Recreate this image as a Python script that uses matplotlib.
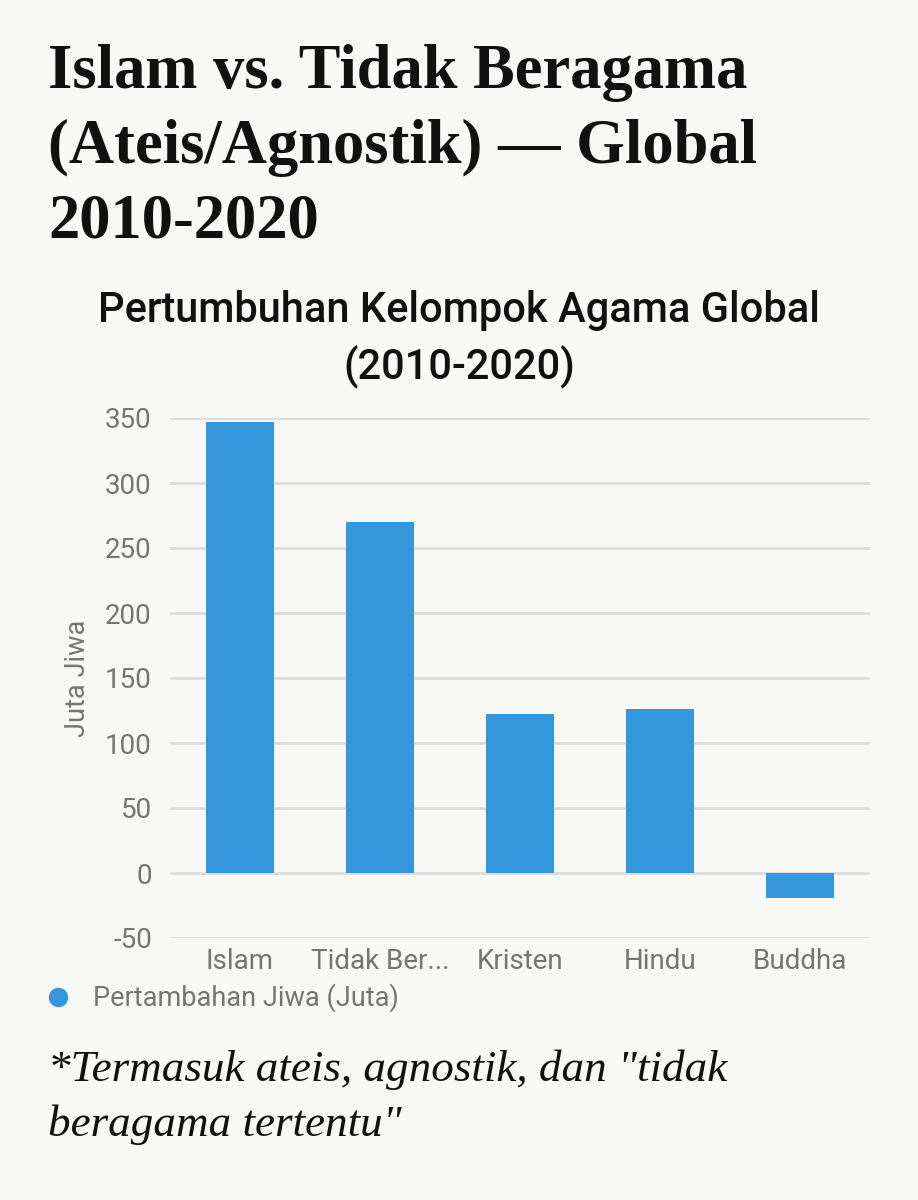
import matplotlib
matplotlib.use("Agg")
import matplotlib.pyplot as plt
from matplotlib.lines import Line2D

categories = ["Islam", "Tidak Ber...", "Kristen", "Hindu", "Buddha"]
values = [347, 270, 122, 126, -19]
y_ticks = [-50, 0, 50, 100, 150, 200, 250, 300, 350]

title = "Islam vs. Tidak Beragama\n(Ateis/Agnostik) — Global\n2010-2020"
subtitle = "Pertumbuhan Kelompok Agama Global\n(2010-2020)"
y_label = "Juta Jiwa"
legend_label = "Pertambahan Jiwa (Juta)"
footnote = "*Termasuk ateis, agnostik, dan \"tidak\nberagama tertentu\""

BG = "#f8f8f6"
BAR = "#3597db"
GRAY = "#757575"
GRID = "#dcdcdc"

W, H = 918, 1200
fig = plt.figure(figsize=(W / 100, H / 100), dpi=100, facecolor=BG)

fig.text(48 / W, 1 - 44 / H, title, ha="left", va="top", fontsize=45,
         family="Liberation Serif", weight="bold", color="#111111", linespacing=1.38)
fig.text(459 / W, 1 - 290 / H, subtitle, ha="center", va="top", fontsize=30,
         family="Roboto", weight="medium", color="#111111", linespacing=1.4)

ax = fig.add_axes([170 / W, (H - 938) / H, 700 / W, 520 / H])
ax.set_facecolor(BG)
ax.bar(range(len(categories)), values, width=0.49, color=BAR, zorder=3)
ax.set_xlim(-0.5, len(categories) - 0.5)
ax.set_ylim(-50, 350)
ax.set_yticks(y_ticks)
ax.set_yticklabels([str(t) for t in y_ticks])
ax.set_xticks(range(len(categories)))
ax.set_xticklabels(categories)
ax.grid(axis="y", color=GRID, linewidth=2, zorder=0)
for s in ax.spines.values():
    s.set_visible(False)
ax.tick_params(axis="both", length=0, labelcolor=GRAY, labelsize=20)
ax.tick_params(axis="y", pad=13)
ax.tick_params(axis="x", pad=7)
for lbl in ax.get_xticklabels() + ax.get_yticklabels():
    lbl.set_family("Roboto")
ax.set_ylabel(y_label, family="Roboto", fontsize=19.5, color=GRAY, labelpad=10)

handle = Line2D([], [], marker="o", linestyle="none", markersize=13,
                markerfacecolor=BAR, markeredgecolor=BAR)
fig.legend([handle], [legend_label], loc="center left",
           bbox_to_anchor=(36 / W, 1 - 998 / H), frameon=False,
           prop={"family": "Roboto", "size": 19.5}, labelcolor=GRAY,
           handletextpad=0.5, handlelength=1.6, borderpad=0, borderaxespad=0)

fig.text(48 / W, 1 - 1050 / H, footnote, ha="left", va="top", fontsize=32.5,
         family="Liberation Serif", style="italic", color="#111111", linespacing=1.45)

fig.savefig("out.png", dpi=100, facecolor=BG)
